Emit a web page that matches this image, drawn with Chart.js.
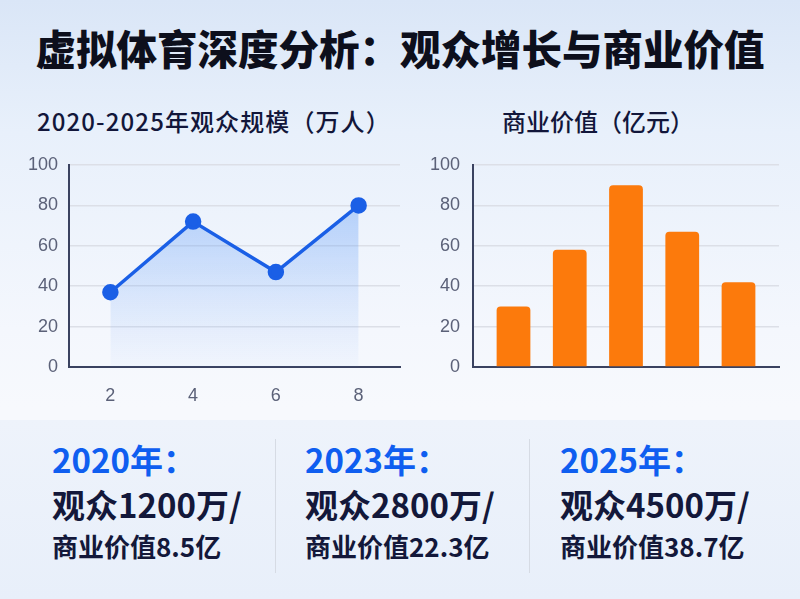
<!DOCTYPE html>
<html>
<head>
<meta charset="utf-8">
<script src="https://cdn.jsdelivr.net/npm/chart.js@4/dist/chart.umd.min.js"></script>
<style>
  html, body { margin: 0; padding: 0; }
  body {
    width: 800px; height: 599px; position: relative; overflow: hidden;
    font-family: "Noto Sans CJK SC", "Noto Sans", sans-serif;
    background: linear-gradient(180deg, #dae6f7 0%, #e8f0fb 22%, #f4f7fd 55%, #f7f9fd 68%);
  }
  .title {
    position: absolute; left: 0; top: 20px; width: 800px; text-align: center;
    font-size: 40.5px; font-weight: 900; color: #0d0f1c; line-height: 56px;
  }
  .sub { position: absolute; top: 105px; font-size: 24px; font-weight: 500; color: #12163a; line-height: 32px; }
  .panel {
    position: absolute; left: 0; top: 420px; width: 800px; height: 179px;
    background: linear-gradient(180deg, #eef3fb 0%, #e8effa 100%);
  }
  .sep { position: absolute; top: 439px; width: 1px; height: 134px; background: #d6dbe4; }
  .stat { position: absolute; top: 437px; }
  .stat .yr { font-size: 33px; font-weight: 700; color: #0f5ef0; line-height: 44px; }
  .stat .aud { font-size: 33px; font-weight: 700; color: #13183a; line-height: 46px; }
  .stat .val { font-size: 26px; font-weight: 600; color: #13183a; line-height: 38px; }
  canvas { position: absolute; }
</style>
</head>
<body>
<div class="title">虚拟体育深度分析：观众增长与商业价值</div>
<div class="sub" style="left:37px;letter-spacing:1.1px">2020-2025年观众规模（万人）</div>
<div class="sub" style="left:502px">商业价值（亿元）</div>
<div class="panel"></div>
<div class="sep" style="left:275px"></div>
<div class="sep" style="left:529px"></div>
<div id="stats"></div>
<div style="position:absolute;left:0;top:140px;width:410px;height:280px"><canvas id="lineChart"></canvas></div>
<div style="position:absolute;left:410px;top:140px;width:390px;height:280px"><canvas id="barChart"></canvas></div>
<script>
// left chart: audience scale
const audienceLabels = ['2', '4', '6', '8']
const audienceValues = [37, 72, 47, 80]

// right chart: commercial value
const valuePositions = [0, 1, 2, 3, 4]
const valueBars = [30, 58, 90, 67, 42]

// shared y axis
const yMin = 0
const yMax = 100
const yStep = 20

// bottom summary
const statYears = ['2020年：', '2023年：', '2025年：']
const statAudience = ['观众1200万/', '观众2800万/', '观众4500万/']
const statValue = ['商业价值8.5亿', '商业价值22.3亿', '商业价值38.7亿']
const statLeft = [52, 305, 560]

const stats = document.getElementById('stats')
statYears.forEach((yr, i) => {
    const el = document.createElement('div')
    el.className = 'stat'
    el.style.left = statLeft[i] + 'px'
    el.innerHTML = '<div class="yr">' + yr + '</div><div class="aud">' + statAudience[i] + '</div><div class="val">' + statValue[i] + '</div>'
    stats.appendChild(el)
})

const tickFont = { family: '"Liberation Sans", Arial, sans-serif', size: 18 }
const tickColor = '#5b6178'
const axisColor = '#3a4260'
const gridColor = '#dcdfe7'

function yScale(width, pad) {
    return {
        min: yMin, max: yMax,
        ticks: { stepSize: yStep, font: tickFont, color: tickColor, padding: pad },
        grid: { color: gridColor, lineWidth: 1.5, drawTicks: false },
        border: { color: axisColor, width: 2 },
        afterFit: s => { s.width = width }
    }
}

new Chart(document.getElementById('lineChart'), {
    type: 'line',
    data: {
        labels: audienceLabels,
        datasets: [{
            data: audienceValues,
            borderColor: '#1a5fe6',
            borderWidth: 3.5,
            pointRadius: 6.5,
            pointBackgroundColor: '#1a5fe6',
            pointBorderColor: '#1a5fe6',
            fill: 'origin',
            tension: 0,
            backgroundColor: ctx => {
                const area = ctx.chart.chartArea
                if (!area) return 'rgba(60,130,240,0.3)'
                const g = ctx.chart.ctx.createLinearGradient(0, area.top, 0, area.bottom)
                g.addColorStop(0, 'rgba(70,140,245,0.45)')
                g.addColorStop(1, 'rgba(120,170,250,0.03)')
                return g
            }
        }]
    },
    options: {
        responsive: true, maintainAspectRatio: false, animation: false,
        layout: { padding: { top: 25, right: 10, left: 0, bottom: 0 } },
        plugins: { legend: { display: false }, tooltip: { enabled: false } },
        scales: {
            x: {
                offset: true,
                ticks: { font: tickFont, color: tickColor, padding: 18 },
                grid: { display: false, drawTicks: false },
                border: { color: axisColor, width: 2 },
                afterFit: s => { s.height = 53 }
            },
            y: yScale(69, 11)
        }
    }
})

new Chart(document.getElementById('barChart'), {
    type: 'bar',
    data: {
        datasets: [{
            data: valuePositions.map((x, i) => ({ x: x, y: valueBars[i] })),
            backgroundColor: '#fc7a0c',
            borderRadius: 4,
            barPercentage: 0.6,
            categoryPercentage: 1
        }]
    },
    options: {
        responsive: true, maintainAspectRatio: false, animation: false,
        layout: { padding: { top: 25, right: 21, left: 0, bottom: 0 } },
        plugins: { legend: { display: false }, tooltip: { enabled: false } },
        scales: {
            x: {
                type: 'linear', min: -0.72, max: 4.72, offset: false,
                ticks: { display: false, stepSize: 1, includeBounds: false },
                grid: { display: false, drawTicks: false },
                border: { color: axisColor, width: 2 },
                afterFit: s => { s.height = 53 }
            },
            y: yScale(63, 13)
        }
    }
})
</script>
</body>
</html>
